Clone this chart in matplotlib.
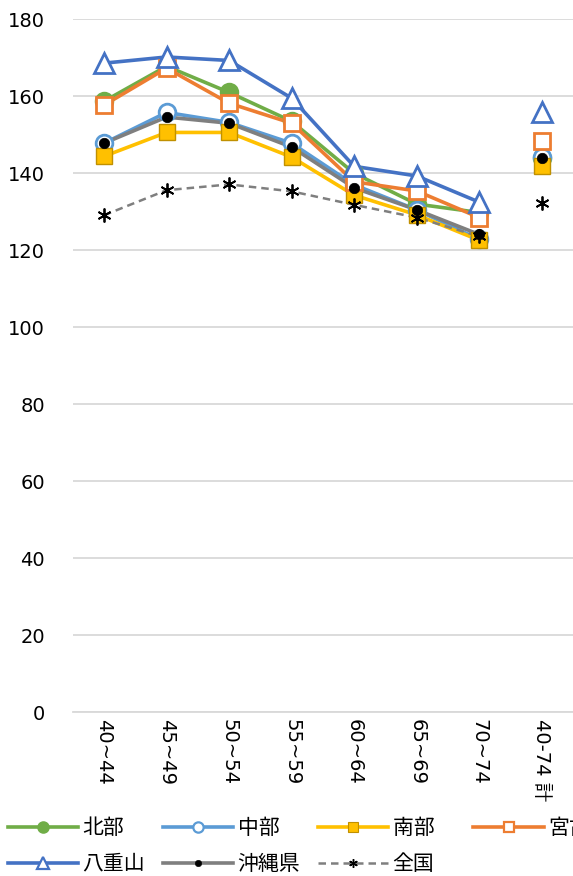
import numpy as np
import matplotlib
matplotlib.use("Agg")
import matplotlib.pyplot as plt

plt.rcParams['font.family'] = ['DejaVu Sans', 'Noto Sans CJK JP']

# %%
categories = ["40~44", "45~49", "50~54", "55~59", "60~64", "65~69", "70~74", "40-74 計"]

hokubu = [158.7, 167.8, 161.0, 153.5, 140.0, 132.0, 129.8, 144.0]
chubu = [147.8, 155.8, 153.2, 147.8, 137.0, 130.5, 122.8, 144.3]
nanbu = [144.4, 150.6, 150.6, 144.2, 134.3, 129.2, 122.6, 141.8]
miyako = [157.7, 167.3, 158.2, 153.0, 137.8, 135.4, 128.5, 148.4]
yaeyama = [168.6, 170.2, 169.3, 159.5, 141.8, 139.3, 132.5, 155.8]
okinawa = [147.8, 154.6, 153.0, 146.8, 136.2, 130.5, 124.1, 143.9]
zenkoku = [129.1, 135.6, 137.1, 135.3, 131.8, 128.5, 123.6, 132.2]

# %%
fig = plt.figure(figsize=(5.73, 8.76), dpi=100)
ax = fig.add_axes([0.127, 0.187, 0.873, 0.791])

x = np.arange(len(categories))
n_line = 7  # the total column is not connected to the age groups


def plot_series(vals, label, color, marker, ms, mfc, mec, ls="-", lw=2.6, mew=2.0):
    vals = np.array(vals)
    ax.plot(x[:n_line], vals[:n_line], color=color, lw=lw, ls=ls, zorder=2)
    ax.plot(x, vals, ls="none", zorder=3,
            marker=marker, ms=ms, mfc=mfc, mec=mec, mew=mew)
    # proxy for legend
    h, = ax.plot([], [], color=color, lw=lw, ls=ls, marker=marker, ms=ms * 0.62,
                 mfc=mfc, mec=mec, mew=mew * 0.8, label=label)
    return h


asterisk = (6, 2, 0)
h1 = plot_series(hokubu, "北部", "#70ad47", "o", 12, "#70ad47", "#70ad47")
h2 = plot_series(chubu, "中部", "#5b9bd5", "o", 12, "white", "#5b9bd5")
h3 = plot_series(nanbu, "南部\u3000", "#ffc000", "s", 11, "#ffc000", "#c09000", mew=1.0)
h4 = plot_series(miyako, "宮古", "#ed7d31", "s", 11, "white", "#ed7d31")
h5 = plot_series(yaeyama, "八重山", "#4472c4", "^", 14, "white", "#4472c4")
h6 = plot_series(okinawa, "沖縄県", "#7f7f7f", "o", 7.5, "black", "black", mew=0.5)
h7 = plot_series(zenkoku, "全国", "#7f7f7f", asterisk, 10, "black", "black",
                 ls=(0, (3, 2)), lw=1.8, mew=1.3)

ax.set_xlim(-0.5, len(categories) - 0.5)
ax.set_ylim(0, 180)
ax.set_yticks(np.arange(0, 181, 20))
ax.set_xticks(x)
ax.set_xticklabels(categories, rotation=-90, va="top", ha="center", fontsize=14)
ax.tick_params(axis="y", length=0, pad=20, labelsize=14)
ax.tick_params(axis="x", length=0, pad=5)
ax.yaxis.grid(True, color="#d9d9d9", lw=1.3)
ax.set_axisbelow(True)
for s in ["top", "right", "left"]:
    ax.spines[s].set_visible(False)
ax.spines["bottom"].set_color("#d9d9d9")
ax.spines["bottom"].set_linewidth(1.3)

handles = [h1, h5, h2, h6, h3, h7, h4]
fig.legend(handles=handles, labels=[h.get_label() for h in handles],
           loc="upper left", bbox_to_anchor=(0.014, 0.066), ncol=4, frameon=False,
           fontsize=15, handlelength=3.37, handletextpad=0.2, columnspacing=0.87,
           labelspacing=0.75, borderaxespad=0, borderpad=0)

fig.savefig("out.png", dpi=100)
